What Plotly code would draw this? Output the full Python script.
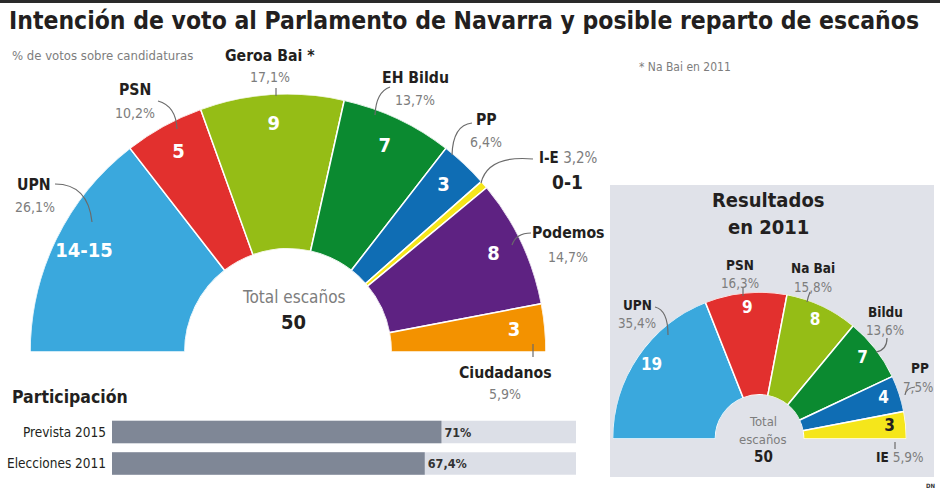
import numpy as np
import plotly.graph_objects as go

W, H = 940, 490
FONT = "Liberation Sans Narrow, DejaVu Sans Condensed, Roboto Condensed, Arial Narrow, Roboto, sans-serif"
DARK = "#231f20"
GREY = "#7d7d7d"

title = "Intención de voto al Parlamento de Navarra y posible reparto de escaños"

# ---- 2015 poll (main fan) ----
parties_2015 = ["UPN", "PSN", "Geroa Bai *", "EH Bildu", "PP", "I-E", "Podemos", "Ciudadanos"]
seats_2015 = [14.5, 5, 9, 7, 3, 0.5, 8, 3]          # 14-15 and 0-1 drawn at midpoint
seat_labels_2015 = ["14-15", "5", "9", "7", "3", "", "8", "3"]
seat_range_ie = "0-1"
votes_2015 = ["26,1%", "10,2%", "17,1%", "13,7%", "6,4%", "3,2%", "14,7%", "5,9%"]
colors_2015 = ["#3aa8dd", "#e2302e", "#95bd16", "#0b8a30", "#0f6db4", "#f5e61b", "#5e2282", "#f39200"]

# ---- 2011 results (small fan) ----
parties_2011 = ["UPN", "PSN", "Na Bai", "Bildu", "PP", "IE"]
seats_2011 = [19, 9, 8, 7, 4, 3]
votes_2011 = ["35,4%", "16,3%", "15,8%", "13,6%", "7,5%", "5,9%"]
colors_2011 = ["#3aa8dd", "#e2302e", "#95bd16", "#0b8a30", "#0f6db4", "#f5e61b"]
seat_text_colors_2011 = ["white", "white", "white", "white", "white", DARK]

total_seats = 50

# ---- turnout ----
turnout_labels = ["Prevista 2015", "Elecciones 2011"]
turnout_values = [71, 67.4]
turnout_text = ["71%", "67,4%"]
turnout_full = 100


def fan(seats):
    s = np.asarray(seats, dtype=float)
    tot = s.sum()
    start = np.concatenate([[0.0], np.cumsum(s)[:-1]])
    theta = 180 - (start + s / 2) * 180 / tot
    width = s * 180 / tot
    return theta, width


def px(x, y):
    return x / W, 1 - y / H


fig = go.Figure()

# main fan
th, wd = fan(seats_2015)
fig.add_trace(go.Barpolar(
    r=[1] * len(seats_2015), theta=th, width=wd,
    marker=dict(color=colors_2015, line=dict(color="white", width=1.5)),
    subplot="polar", hoverinfo="skip", showlegend=False))
fig.add_trace(go.Scatterpolar(
    r=[0.8] * len(seats_2015), theta=th, mode="text", text=seat_labels_2015,
    textfont=dict(family=FONT, size=20, color="white", weight="bold"),
    subplot="polar", hoverinfo="skip", showlegend=False))

# small fan
th2, wd2 = fan(seats_2011)
fig.add_trace(go.Barpolar(
    r=[1] * len(seats_2011), theta=th2, width=wd2,
    marker=dict(color=colors_2011, line=dict(color="white", width=1.5)),
    subplot="polar2", hoverinfo="skip", showlegend=False))
fig.add_trace(go.Scatterpolar(
    r=[0.84] * len(seats_2011), theta=th2, mode="text", text=[str(v) for v in seats_2011],
    textfont=dict(family=FONT, size=17, color=seat_text_colors_2011, weight="bold"),
    subplot="polar2", hoverinfo="skip", showlegend=False))

# turnout bars
fig.add_trace(go.Bar(
    y=turnout_labels, x=[turnout_full] * len(turnout_labels), orientation="h",
    marker=dict(color="#dcdfe7", line=dict(width=0)), hoverinfo="skip", showlegend=False))
fig.add_trace(go.Bar(
    y=turnout_labels, x=turnout_values, orientation="h", text=turnout_text,
    textposition="outside", cliponaxis=False,
    textfont=dict(family=FONT, size=12.5, color="#333333", weight="bold"),
    marker=dict(color="#7f8796", line=dict(width=0)), hoverinfo="skip", showlegend=False))

polar_common = dict(
    sector=[0, 180], bgcolor="rgba(0,0,0,0)",
    radialaxis=dict(visible=False, range=[0, 1]),
    angularaxis=dict(visible=False, direction="counterclockwise", rotation=0))

# geometry of the fans (pixels)
cx1, cy1, R1 = 288, 352, 258
cx2, cy2, R2 = 759.5, 439, 147

fig.update_layout(
    width=W, height=H, margin=dict(l=0, r=0, t=0, b=0),
    paper_bgcolor="white", plot_bgcolor="rgba(0,0,0,0)",
    font=dict(family=FONT, color=DARK),
    barmode="overlay", bargap=0.29,
    polar=dict(domain=dict(x=[(cx1 - R1) / W, (cx1 + R1) / W],
                           y=[1 - cy1 / H, 1 - (cy1 - R1) / H]),
               hole=0.4, **polar_common),
    polar2=dict(domain=dict(x=[(cx2 - R2) / W, (cx2 + R2) / W],
                            y=[1 - cy2 / H, 1 - (cy2 - R2) / H]),
                hole=0.30, **polar_common),
    xaxis=dict(domain=[112 / W, 576 / W], range=[0, 100], visible=False, fixedrange=True),
    yaxis=dict(domain=[1 - 479.25 / H, 1 - 416.25 / H], autorange="reversed",
               showgrid=False, zeroline=False, showline=False, ticks="",
               ticklabelstandoff=5,
               tickfont=dict(family=FONT, size=13.5, color=DARK)),
)

shapes = []
# top dark strip
shapes.append(dict(type="rect", xref="paper", yref="paper", x0=0, x1=1, y0=1 - 3 / H, y1=1,
                   fillcolor="#2a2a2a", line=dict(width=0), layer="below"))
# 2011 panel
x0, y0 = px(610, 477)
x1, y1 = px(934, 185)
shapes.append(dict(type="rect", xref="paper", yref="paper", x0=x0, x1=x1, y0=y0, y1=y1,
                   fillcolor="#e0e2e9", line=dict(width=0), layer="below"))


def leader(p0, c, p1):
    a = px(*p0)
    b = px(*c)
    d = px(*p1)
    return dict(type="path", xref="paper", yref="paper",
                path=f"M {a[0]},{a[1]} Q {b[0]},{b[1]} {d[0]},{d[1]}",
                line=dict(color="#6b6b6b", width=1.2))


leaders = [
    ((55, 184), (88, 184), (92, 222)),      # UPN
    ((158, 101), (176, 106), (177, 129)),   # PSN
    ((276, 88), (276, 91), (276, 96)),      # Geroa
    ((390, 87), (376, 92), (375, 115)),     # EH Bildu
    ((472, 123), (453, 125), (452, 155)),   # PP
    ((533, 159), (488, 155), (481, 183)),   # I-E
    ((531, 233), (516, 233), (512, 245)),   # Podemos
    ((533, 344), (533, 350), (533, 357)),   # Ciudadanos
    ((655, 307), (668, 310), (668, 335)),   # UPN 2011
    ((743, 288), (743, 292), (743, 296)),   # PSN 2011
    ((810, 292), (808, 297), (807, 302)),   # Na Bai
    ((887, 338), (887, 350), (876, 352)),   # Bildu 2011
    ((915, 387), (906, 388), (905, 395)),   # PP 2011
    ((895, 442), (895, 445), (895, 449)),   # IE 2011
]
for l in leaders:
    shapes.append(leader(*l))
fig.update_layout(shapes=shapes)

ann = []


def txt(x, y, s, size=15, color=DARK, bold=False, anchor="center"):
    xx, yy = px(x, y)
    ann.append(dict(x=xx, y=yy, xref="paper", yref="paper", text=s, showarrow=False,
                    xanchor=anchor, yanchor="middle",
                    font=dict(family=FONT, size=size, color=color,
                              weight="bold" if bold else "normal")))


txt(7, 21, title, size=24.5, bold=True, anchor="left")
txt(10, 55, "% de votos sobre candidaturas", size=13, color=GREY, anchor="left")
txt(637, 67, "* Na Bai en 2011", size=12, color=GREY, anchor="left")

# main party labels: (x, y of name), (x, y of pct)
main_pos = {
    "UPN": ((34, 184), (35, 207)),
    "PSN": ((135, 90), (135, 113)),
    "Geroa Bai *": ((270, 55), (270, 77)),
    "EH Bildu": ((415, 77), (415, 100)),
    "PP": ((486, 119), (486, 142)),
    "Podemos": ((568, 233), (568, 257)),
    "Ciudadanos": ((505, 372), (505, 394)),
}
for name, pct in zip(parties_2015, votes_2015):
    if name in main_pos:
        (nx, ny), (qx, qy) = main_pos[name]
        txt(nx, ny, name, size=15.7, bold=True)
        txt(qx, qy, pct, size=14, color=GREY)
    else:
        txt(537, 158, f"<b>{name}</b> <span style='color:{GREY}'>{pct}</span>", size=15,
            anchor="left")
        txt(567, 182, seat_range_ie, size=19, bold=True)

txt(293, 297, "Total escaños", size=17, color=GREY)
txt(293, 322, str(total_seats), size=20, bold=True)

# 2011 panel
txt(768, 200, "Resultados", size=20, bold=True)
txt(768, 227, "en 2011", size=20, bold=True)
small_pos = {
    "UPN": ((637, 305), (637, 323)),
    "PSN": ((740, 265), (740, 283)),
    "Na Bai": ((813, 268), (813, 287)),
    "Bildu": ((885, 312), (885, 330)),
    "PP": ((920, 368), (918, 387)),
}
for name, pct in zip(parties_2011, votes_2011):
    if name in small_pos:
        (nx, ny), (qx, qy) = small_pos[name]
        txt(nx, ny, name, size=13.5, bold=True)
        txt(qx, qy, pct, size=13.3, color=GREY)
    else:
        txt(900, 457, f"<b>{name}</b> <span style='color:{GREY}'>{pct}</span>", size=13.5)

txt(763, 421, "Total", size=13, color=GREY)
txt(763, 439, "escaños", size=13, color=GREY)
txt(763, 457, str(total_seats), size=15, bold=True)

txt(10, 397, "Participación", size=17.5, bold=True, anchor="left")
txt(930, 485, "DN", size=6, bold=True, color="#333")

fig.update_layout(annotations=ann)
fig.write_html("out.html",
               config={"displayModeBar": False},
               post_script="document.body.style.margin='0px';"
                           "document.documentElement.style.overflow='hidden';")
